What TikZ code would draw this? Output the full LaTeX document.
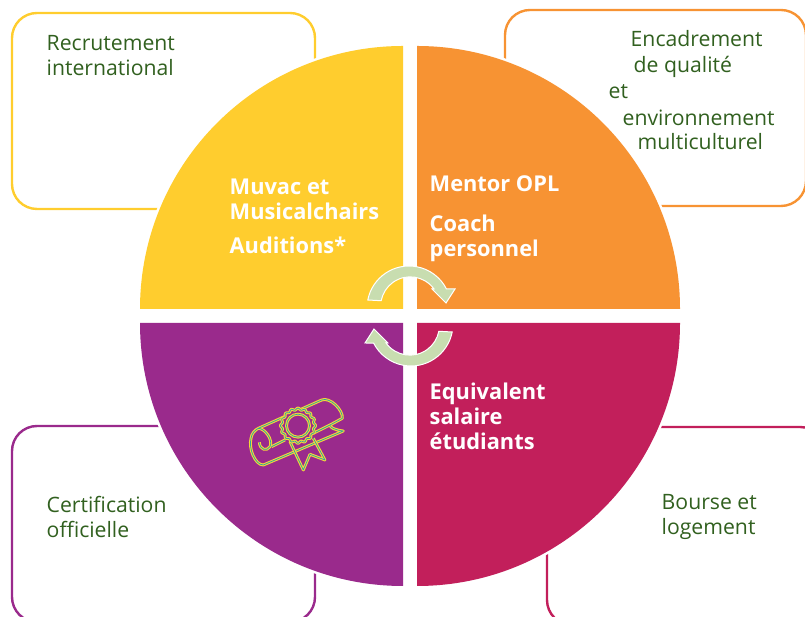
\documentclass[tikz,border=0pt]{standalone}
\usepackage{fontspec}
\setmainfont{Open Sans}
\definecolor{muvacyellow}{HTML}{FFCD2E}
\definecolor{mentororange}{HTML}{F79333}
\definecolor{salarycrimson}{HTML}{C21F5B}
\definecolor{certifpurple}{HTML}{9A2A8C}
\definecolor{cyclegreen}{HTML}{C8DDB0}
\definecolor{labelgreen}{HTML}{31601F}
\definecolor{sealyellow}{HTML}{F5D63A}
\definecolor{sealteal}{HTML}{2AA5A0}
\tikzset{
	infobox/.style={draw=#1, line width=2.4pt, rounded corners=25pt, inner sep=0pt},
	quarter/.style={preaction={draw=white, line width=5pt}, fill=#1},
	cyclearrow/.style={fill=cyclegreen, draw=white, line width=1pt, line join=miter},
	boxlabel/.style={text=labelgreen, anchor=base west, inner sep=0pt, align=left, yshift=-0.8pt, font=\fontsize{21.2}{25}\selectfont},
	piclabel/.style={text=white, anchor=base west, inner sep=0pt, align=left, yshift=-1.5pt, font=\fontsize{21.8}{25}\selectfont\bfseries},
	scrollline/.style={draw=sealyellow, double=sealteal, double distance=0.7pt, line width=1.1pt, line join=round}
}

\begin{document}
\begin{tikzpicture}[x=1pt, y=1pt]
	\clip (0,0) rectangle (805,617);

	% boxes behind the disc
	\node[infobox=muvacyellow, minimum width=303pt, minimum height=196pt] (boxrecruit) at (163.5,506) {};
	\node[infobox=mentororange, minimum width=301pt, minimum height=196pt] (boxmentor) at (655.5,509) {};
	\node[infobox=certifpurple, minimum width=303pt, minimum height=196pt] (boxcertif) at (163.5,93) {};
	\node[infobox=salarycrimson, minimum width=278pt, minimum height=198pt] (boxsalary) at (686,91) {};

	% four quarters of the disc
	\foreach \cx/\cy/\ang/\col in {403/308/90/muvacyellow, 417/308/0/mentororange, 403/294/180/certifpurple, 417/294/270/salarycrimson}
		\path[quarter=\col] (\cx,\cy) -- ++(\ang:263pt) arc[start angle=\ang, delta angle=90, radius=263pt] -- cycle;

	% cycle arrows
	\foreach \turn in {0,180}
		\path[cyclearrow, rotate around={\turn:(410,301)}] (367.8,317) arc[start angle=169, end angle=27, radius=42pt]
			-- (455,328) -- (446,314) -- (432,328) -- (434,328) arc[start angle=36, end angle=169, radius=29.5pt] -- cycle;

	% texts of the boxes
	\node[boxlabel] (recruit) at (46.5,542) {Recrutement\\international};
	\node[boxlabel] (encadr) at (630.5,571) {Encadrement};
	\node[boxlabel] (qualite) at (633.5,545) {de qualité};
	\node[boxlabel] (etword) at (608.5,519) {et};
	\node[boxlabel] (environ) at (622.5,492) {environnement};
	\node[boxlabel] (multi) at (637.5,468) {multiculturel};
	\node[boxlabel] (certif) at (46.5,80) {Certification\\officielle};
	\node[boxlabel] (bourse) at (661.5,83) {Bourse et\\logement};

	% texts on the disc
	\node[piclabel] (muvac) at (229.5,399) {Muvac et\\Musicalchairs};
	\node[piclabel] (auditions) at (229.5,365) {Auditions*};
	\node[piclabel] (mentor) at (429.5,427) {Mentor OPL};
	\node[piclabel] (coach) at (429.5,362) {Coach\\personnel};
	\node[piclabel] (equiv) at (429.5,169) {Equivalent\\salaire\\étudiants};

	% diploma icon
	\begin{scope}[shift={(235,232)}, x=0.3333pt, y=-0.3333pt]
		\path[scrollline] (70,130) -- (260,45) .. controls (285,35) and (325,75) .. (322,100) -- (285,120)
			.. controls (285,128) and (300,135) .. (325,138) -- (85,240)
			.. controls (60,240) and (40,190) .. (48,160) .. controls (50,145) and (60,135) .. (70,130)
			.. controls (90,130) and (115,165) .. (105,185) .. controls (95,200) and (75,195) .. (73,172);
		\path[scrollline] (285,120) -- (235,145);
		\path[scrollline] (110,185) -- (150,165);
		\path[scrollline] (165,170) -- (205,255) -- (225,208) -- (270,225) -- (235,160);
		\path[scrollline, fill=certifpurple] plot[domain=0:356, samples=90, smooth cycle] ({189+(50+3*cos(16*\x))*cos(\x)},{122+(50+3*cos(16*\x))*sin(\x)});
		\path[scrollline] (189,122) circle[radius=11.5pt];
	\end{scope}
\end{tikzpicture}
\end{document}
